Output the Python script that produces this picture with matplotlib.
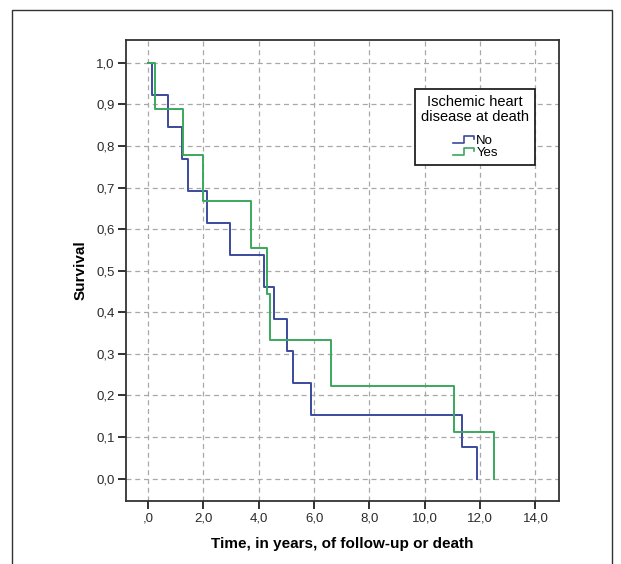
import matplotlib
matplotlib.use("Agg")
import matplotlib.pyplot as plt
from matplotlib.lines import Line2D
from matplotlib.legend_handler import HandlerBase
from matplotlib.patches import Rectangle
from matplotlib.ticker import FuncFormatter

plt.rcParams['font.family'] = ['Liberation Sans', 'DejaVu Sans']

# event times (years)
no_times = [0.15, 0.73, 1.24, 1.43, 2.12, 2.97, 4.18, 4.54, 5.02, 5.22, 5.89, 11.35, 11.87]
yes_times = [0.24, 1.27, 1.98, 3.72, 4.30, 4.42, 6.60, 11.06, 12.50]
x_ticks = [0, 2, 4, 6, 8, 10, 12, 14]
y_ticks = [0.0, 0.1, 0.2, 0.3, 0.4, 0.5, 0.6, 0.7, 0.8, 0.9, 1.0]

blue = '#3b4a9e'
green = '#3aa85c'


def km_steps(times):
    # survival curve for uncensored deaths
    n = len(times)
    xs = [0.0]
    ys = [1.0]
    for i, t in enumerate(times):
        xs.append(t)
        ys.append(1.0 - (i + 1) / n)
    return xs, ys


class StepHandler(HandlerBase):
    def create_artists(self, legend, orig_handle, xdescent, ydescent,
                       width, height, fontsize, trans):
        x0 = -xdescent
        y0 = -ydescent
        xs = [x0, x0 + 0.55 * width, x0 + 0.55 * width, x0 + width, x0 + width]
        ys = [y0 + 0.15 * height, y0 + 0.15 * height, y0 + 0.9 * height,
              y0 + 0.9 * height, y0 + 0.55 * height]
        ln = Line2D(xs, ys, color=orig_handle.get_color(), lw=1.2, transform=trans)
        return [ln]


fig = plt.figure(figsize=(6.21, 5.64), dpi=100)
fig.add_artist(Rectangle((12 / 621, -0.1), 600 / 621, 1.1 - 10 / 564,
                         transform=fig.transFigure, fill=False,
                         edgecolor='#333333', lw=1.0))

ax = fig.add_axes([126 / 621, 63 / 564, 433 / 621, 461 / 564])

xs, ys = km_steps(no_times)
ax.step(xs, ys, where='post', color=blue, lw=1.4, label='No')
xs, ys = km_steps(yes_times)
ax.step(xs, ys, where='post', color=green, lw=1.4, label='Yes')

ax.set_xlim(-0.8, 14.85)
ax.set_ylim(-0.054, 1.055)
ax.set_xticks(x_ticks)
ax.set_yticks(y_ticks)
ax.xaxis.set_major_formatter(FuncFormatter(
    lambda v, p: ',0' if v == 0 else f'{v:.1f}'.replace('.', ',')))
ax.yaxis.set_major_formatter(FuncFormatter(lambda v, p: f'{v:.1f}'.replace('.', ',')))
ax.grid(True, ls=(0, (4, 3)), color='#a8a8a8', lw=0.9)
ax.set_axisbelow(True)
ax.tick_params(direction='out', length=6, width=1.3, color='#222222',
               labelsize=9.5, labelcolor='#2a2a2a', pad=2)
for s in ax.spines.values():
    s.set_color('#333333')
    s.set_linewidth(1.3)

ax.set_ylabel('Survival', fontsize=11, fontweight='bold', labelpad=6)
ax.set_xlabel('Time, in years, of follow-up or death', fontsize=11,
              fontweight='bold', labelpad=9)

handles = [Line2D([], [], color=blue), Line2D([], [], color=green)]
leg = ax.legend(handles, ['No', 'Yes'], title='Ischemic heart\ndisease at death',
                handler_map={Line2D: StepHandler()}, loc='upper right',
                bbox_to_anchor=(0.945, 0.894), borderaxespad=0,
                fancybox=False, framealpha=1,
                edgecolor='#222222', fontsize=9.5, title_fontsize=10.5,
                handlelength=1.6, handletextpad=0.2, labelspacing=0.0,
                borderpad=0.45, alignment='center')
leg._legend_box.sep = 8
leg.get_title().set_multialignment('center')
leg.get_title().set_linespacing(1.1)
leg.get_frame().set_linewidth(1.3)

fig.savefig('out.png', dpi=100)
